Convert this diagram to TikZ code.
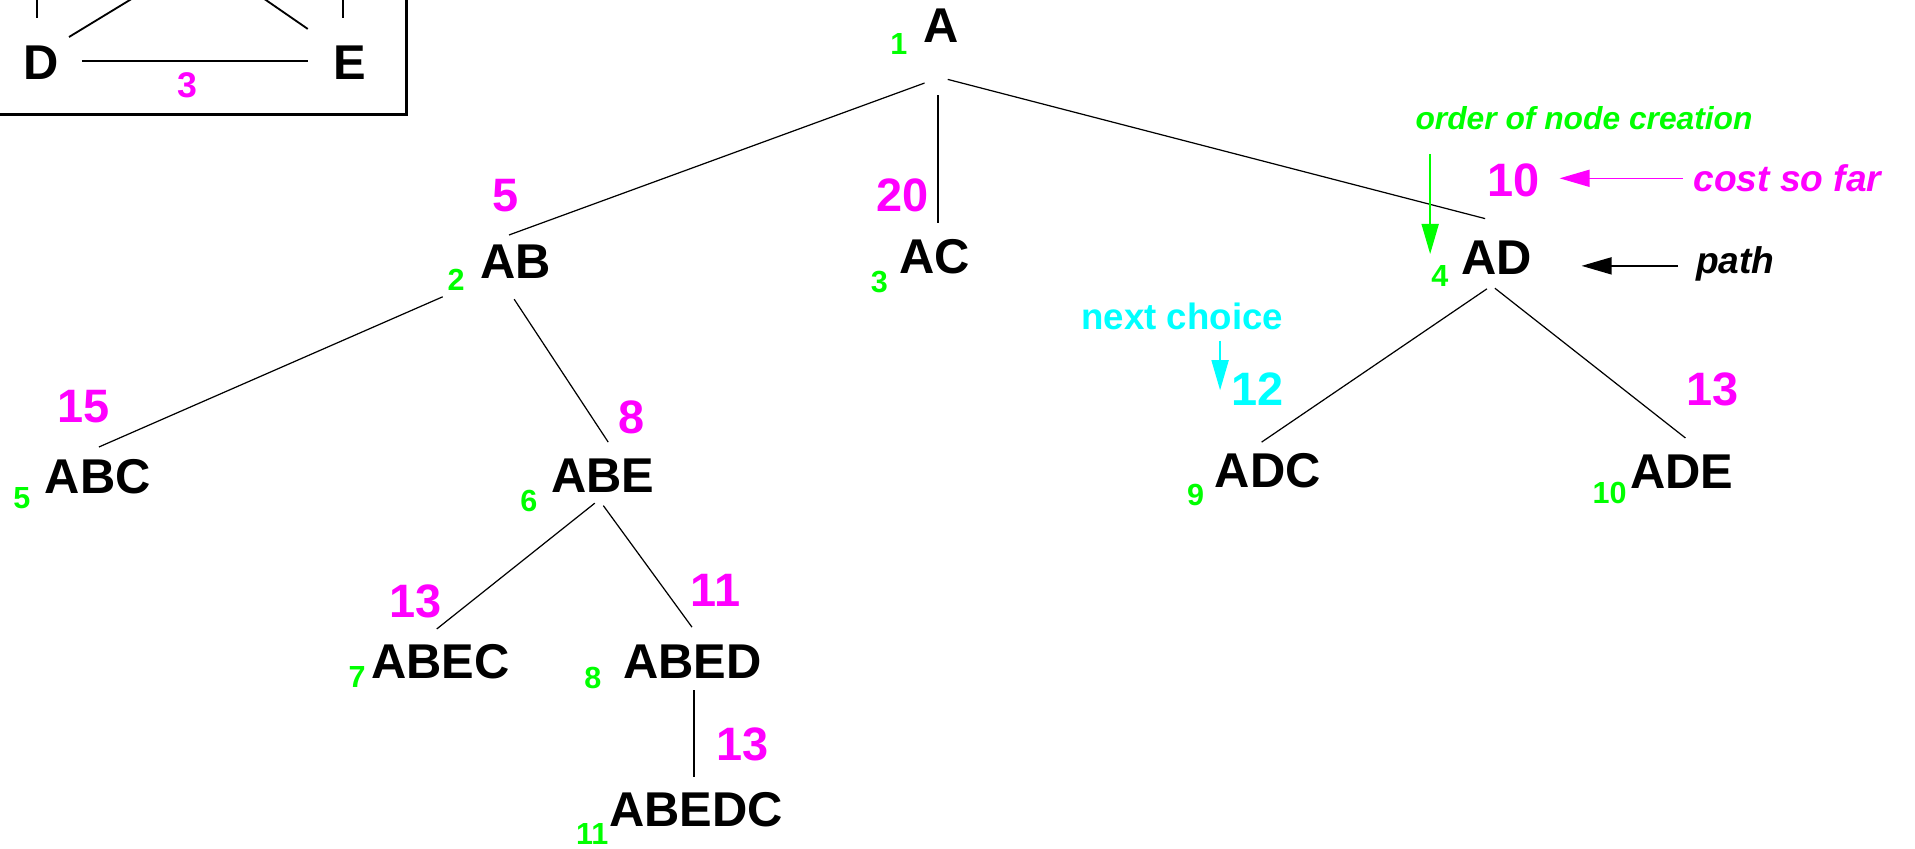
\documentclass[tikz,border=0pt]{standalone}
\usepackage{fontspec}
\setmainfont{Liberation Sans}
\usetikzlibrary{arrows.meta}
\definecolor{cgreen}{RGB}{0,255,0}
\definecolor{cmag}{RGB}{255,0,255}
\definecolor{ccyan}{RGB}{0,255,255}
\tikzset{
  lbl/.style={font=\fontsize{20}{24}\selectfont\bfseries, inner sep=0pt},
  costnum/.style={font=\fontsize{19.2}{23}\selectfont\bfseries, text=cmag, inner sep=0pt},
  ordnum/.style={font=\fontsize{12.5}{15}\selectfont\bfseries, text=cgreen, inner sep=0pt},
  note/.style={font=\fontsize{15.2}{18}\selectfont\bfseries\itshape, inner sep=0pt},
  treeedge/.style={line width=0.5pt, black},
  boxedge/.style={line width=0.75pt, black},
  annot/.style={line width=0.6pt, -{Triangle[length=12.3pt,width=7pt]}}
}
\begin{document}
\begin{tikzpicture}[x=0.5pt,y=-0.5pt]
\useasboundingbox (0,0) rectangle (1568,695);

% ---------- inset graph (partly outside the picture) ----------
\draw[line width=1.1pt] (-20,-20) rectangle (333,94);
\node[lbl] (gD) at (34,51) {D};
\node[lbl] (gE) at (286,51) {E};
\node[font=\fontsize{14.6}{17}\selectfont\bfseries, text=cmag, inner sep=0pt] (g3) at (153.5,69.5) {3};
\coordinate (gDEa) at (67,50);
\coordinate (gDEb) at (252,50);
\draw[boxedge] (gDEa) -- (gDEb);
\coordinate (gBDa) at (30.3,-40);
\coordinate (gBDb) at (30.3,14.7);
\draw[boxedge] (gBDa) -- (gBDb);
\coordinate (gCEa) at (281,-40);
\coordinate (gCEb) at (281,14.7);
\draw[boxedge] (gCEa) -- (gCEb);
\coordinate (gCDa) at (139.7,-20.3);
\coordinate (gCDb) at (56.5,30.3);
\draw[boxedge] (gCDa) -- (gCDb);
\coordinate (gBEa) at (188.7,-20);
\coordinate (gBEb) at (252,23.7);
\draw[boxedge] (gBEa) -- (gBEb);

% ---------- tree nodes ----------
\node[lbl] (nA) at (770.5,21) {A};
\node[lbl] (nAB) at (422.5,214.5) {AB};
\node[lbl] (nAC) at (765,210.5) {AC};
\node[lbl] (nAD) at (1225.5,211) {AD};
\node[lbl] (nABC) at (80,390) {ABC};
\node[lbl] (nABE) at (493.5,389.5) {ABE};
\node[lbl] (nABEC) at (360.6,541.5) {ABEC};
\node[lbl] (nABED) at (567,541.5) {ABED};
\node[lbl] (nABEDC) at (570,663) {ABEDC};
\node[lbl] (nADC) at (1038,385) {ADC};
\node[lbl] (nADE) at (1377,386) {ADE};

% ---------- order numbers ----------
\node[ordnum] (o1) at (736,36) {1};
\node[ordnum] (o2) at (373.5,229.5) {2};
\node[ordnum] (o3) at (720,231) {3};
\node[ordnum] (o4) at (1179,226) {4};
\node[ordnum] (o5) at (18,408) {5};
\node[ordnum] (o6) at (433,410.5) {6};
\node[ordnum] (o7) at (292.5,554) {7};
\node[ordnum] (o8) at (485.5,555) {8};
\node[ordnum] (o9) at (979,405) {9};
\node[ordnum] (o10) at (1318,403.6) {10};
\node[ordnum] (o11) at (485,683) {11};

% ---------- costs ----------
\node[costnum] (c5) at (414,160) {5};
\node[costnum] (c20) at (739,160) {20};
\node[costnum] (c10) at (1239,148) {10};
\node[costnum] (c15) at (68.6,333) {15};
\node[costnum] (c8) at (517.5,342) {8};
\node[costnum] (c13a) at (340.5,492.5) {13};
\node[costnum] (c11) at (586,483.5) {11};
\node[costnum] (c13b) at (608,609.5) {13};
\node[costnum] (c13c) at (1402,319) {13};
\node[costnum, text=ccyan] (c12) at (1029.5,319) {12};

% ---------- tree edges ----------
\coordinate (eA1) at (757,68);    \coordinate (eAB0) at (416.8,192.4);
\coordinate (eA2) at (768,78);    \coordinate (eAC0) at (768,182.5);
\coordinate (eA3) at (776,65);    \coordinate (eAD0) at (1216,179);
\coordinate (eAB1) at (362.5,243); \coordinate (eABC0) at (81,366);
\coordinate (eAB2) at (421,245);  \coordinate (eABE0) at (498,362);
\coordinate (eABE1) at (487,412); \coordinate (eABEC0) at (357.6,515);
\coordinate (eABE2) at (494,414); \coordinate (eABED0) at (566.6,513.5);
\coordinate (eABED1) at (568,565); \coordinate (eABEDC0) at (568,636);
\coordinate (eAD1) at (1217.5,236.5); \coordinate (eADC0) at (1033,362);
\coordinate (eAD2) at (1224,236); \coordinate (eADE0) at (1380,358.6);
\draw[treeedge] (eA1) -- (eAB0);
\draw[treeedge] (eA2) -- (eAC0);
\draw[treeedge] (eA3) -- (eAD0);
\draw[treeedge] (eAB1) -- (eABC0);
\draw[treeedge] (eAB2) -- (eABE0);
\draw[treeedge] (eABE1) -- (eABEC0);
\draw[treeedge] (eABE2) -- (eABED0);
\draw[treeedge, line width=0.75pt] (eABED1) -- (eABEDC0);
\draw[treeedge] (eAD1) -- (eADC0);
\draw[treeedge] (eAD2) -- (eADE0);

% ---------- annotations ----------
\node[font=\fontsize{13}{16}\selectfont\bfseries\itshape, text=cgreen, inner sep=0pt] (tOrder) at (1297,96.8) {order of node creation};
\node[note, text=cmag] (tCost) at (1463.5,145.8) {cost so far};
\node[note, text=black, anchor=base] (tPath) at (1421,223.6) {path};
\node[font=\fontsize{15}{18}\selectfont\bfseries, text=ccyan, inner sep=0pt] (tNext) at (968,259) {next choice};

\coordinate (gArrS) at (1171,126);  \coordinate (gArrE) at (1171,208);
\coordinate (mArrS) at (1378,146);  \coordinate (mArrE) at (1277,146);
\coordinate (kArrS) at (1374,217.7); \coordinate (kArrE) at (1295,217.7);
\coordinate (cArrS) at (999,279);   \coordinate (cArrE) at (999,319.5);
\draw[annot, cgreen] (gArrS) -- (gArrE);
\draw[annot, cmag] (mArrS) -- (mArrE);
\draw[annot, black] (kArrS) -- (kArrE);
\draw[annot, ccyan] (cArrS) -- (cArrE);
\end{tikzpicture}
\end{document}
